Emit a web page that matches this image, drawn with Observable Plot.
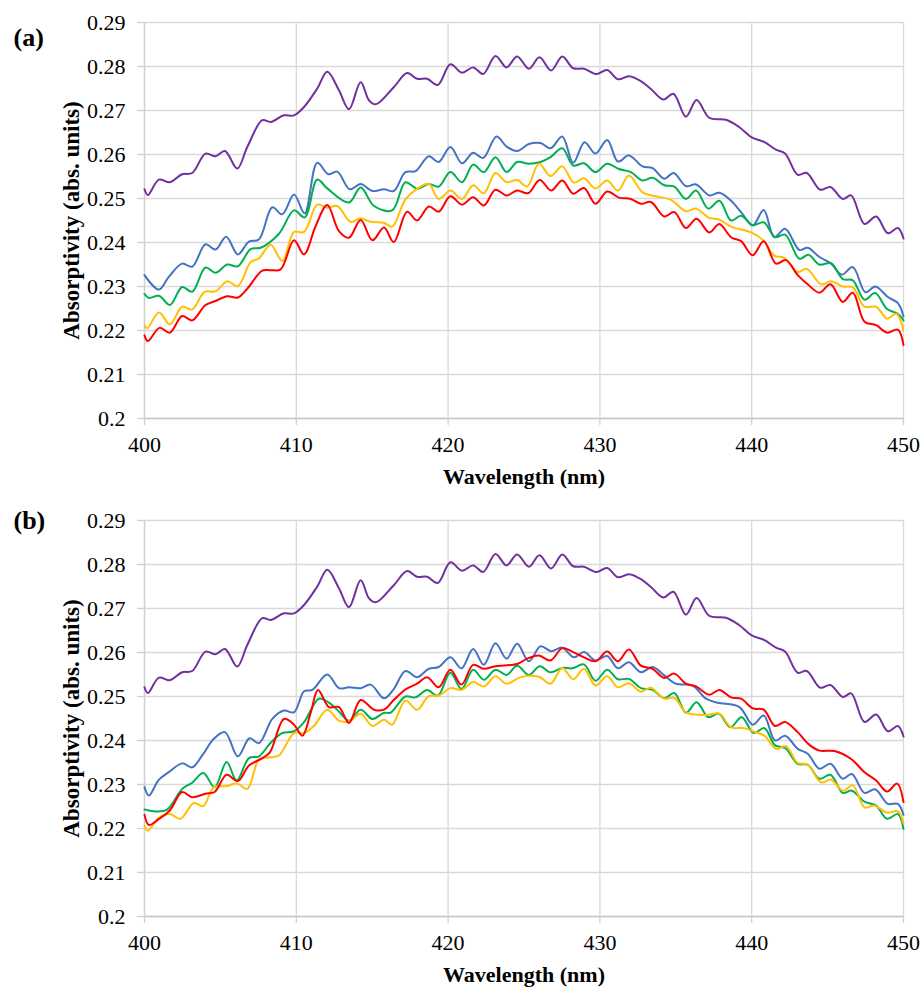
<!DOCTYPE html>
<html><head><meta charset="utf-8">
<script src="https://cdn.jsdelivr.net/npm/d3@7"></script>
<script src="https://cdn.jsdelivr.net/npm/@observablehq/plot@0.6"></script>
<style>
body{margin:0;background:#fff;}
#wrap{width:924px;}
#wrap svg{display:block;}
</style></head><body>
<div id="wrap"></div>
<script>
// [wavelength (nm), absorptivity]
const purple = [[400,0.2521],[400.22,0.2508],[400.95,0.2543],[401.67,0.2537],[402.48,0.2555],[403.14,0.2558],[404.02,0.2602],[404.68,0.2596],[405.3,0.2608],[406.11,0.2568],[406.77,0.2617],[407.76,0.2678],[408.31,0.2674],[409.19,0.2689],[409.85,0.2689],[410.51,0.2708],[411.38,0.2750],[412.04,0.2788],[412.81,0.2746],[413.47,0.2703],[414.24,0.2764],[414.79,0.2723],[415.23,0.2714],[416.42,0.2753],[417.3,0.2785],[417.96,0.2772],[418.62,0.2772],[419.32,0.2758],[420.15,0.2805],[420.92,0.2786],[421.65,0.2798],[422.31,0.2783],[423.12,0.2824],[423.85,0.2798],[424.55,0.2823],[425.32,0.2795],[426.02,0.2821],[426.79,0.2791],[427.52,0.2823],[428.24,0.2796],[428.95,0.2795],[429.78,0.2783],[430.48,0.2792],[431.19,0.2771],[431.91,0.2778],[432.7,0.2767],[433.36,0.2749],[434.18,0.2725],[434.84,0.2738],[435.67,0.2686],[436.37,0.2724],[437.21,0.2683],[438.31,0.2679],[439.19,0.2662],[440.0,0.2639],[440.84,0.2628],[441.6,0.2611],[442.2,0.2602],[443.03,0.2554],[443.63,0.2558],[444.51,0.2520],[445.19,0.2526],[446.0,0.2499],[446.55,0.2507],[447.43,0.2442],[448.2,0.2459],[448.97,0.2421],[449.63,0.2433],[450,0.2409]];

const aBlue = [[400,0.2326],[400.95,0.2293],[401.6,0.2322],[402.48,0.2352],[403.14,0.2345],[404.02,0.2396],[404.68,0.2384],[405.38,0.2413],[406.15,0.2373],[406.88,0.2402],[407.54,0.2407],[408.42,0.2480],[409.08,0.2464],[409.85,0.2509],[410.55,0.2466],[411.38,0.2581],[412.11,0.2555],[412.7,0.2561],[413.52,0.2521],[414.24,0.2533],[415.01,0.2517],[415.78,0.2521],[416.42,0.2517],[417.19,0.2560],[417.85,0.2562],[418.73,0.2596],[419.38,0.2583],[420.15,0.2617],[420.92,0.2580],[421.65,0.2604],[422.31,0.2592],[423.19,0.2641],[423.85,0.2618],[424.55,0.2608],[425.32,0.2624],[426.09,0.2626],[426.75,0.2614],[427.52,0.2641],[428.24,0.2581],[428.99,0.2628],[429.71,0.2602],[430.48,0.2633],[431.19,0.2584],[431.91,0.2598],[432.81,0.2573],[433.47,0.2569],[434.24,0.2545],[434.86,0.2558],[435.67,0.2528],[436.33,0.2532],[437.21,0.2507],[437.87,0.2513],[438.64,0.2495],[439.3,0.2469],[440.07,0.2439],[440.79,0.2474],[441.49,0.2412],[442.2,0.2431],[443.14,0.2383],[443.69,0.2388],[444.46,0.2367],[445.23,0.2352],[445.93,0.2327],[446.66,0.2344],[447.49,0.2287],[448.15,0.2300],[448.97,0.2276],[449.63,0.2262],[450,0.2232]];

const aGreen = [[400,0.2283],[400.29,0.2274],[400.95,0.2279],[401.67,0.2258],[402.48,0.2299],[403.14,0.2288],[404.02,0.2343],[404.68,0.2331],[405.45,0.2350],[406.15,0.2346],[406.99,0.2385],[407.65,0.2388],[408.86,0.2420],[409.85,0.2473],[410.55,0.2457],[411.38,0.2543],[412.04,0.2523],[413.47,0.2491],[414.24,0.2525],[415.12,0.2483],[416.31,0.2473],[417.19,0.2537],[417.96,0.2522],[418.73,0.2533],[419.38,0.2527],[420.15,0.2560],[420.92,0.2537],[421.65,0.2577],[422.35,0.2560],[423.12,0.2594],[423.85,0.2560],[424.55,0.2583],[425.32,0.2579],[426.09,0.2583],[426.75,0.2594],[427.52,0.2614],[428.24,0.2575],[428.95,0.2580],[429.71,0.2560],[430.48,0.2579],[431.25,0.2567],[432.04,0.2560],[432.81,0.2541],[433.47,0.2547],[434.24,0.2530],[434.9,0.2527],[435.67,0.2499],[436.33,0.2518],[437.14,0.2477],[437.87,0.2495],[438.64,0.2450],[439.3,0.2461],[440.07,0.2439],[440.79,0.2446],[441.54,0.2412],[442.2,0.2418],[443.14,0.2363],[443.74,0.2372],[444.46,0.2350],[445.23,0.2353],[446.0,0.2317],[446.66,0.2314],[447.43,0.2270],[448.13,0.2285],[448.92,0.2249],[449.63,0.2238],[450,0.2223]];

const aYellow = [[400,0.2212],[400.18,0.2205],[400.95,0.2241],[401.67,0.2214],[402.48,0.2254],[403.14,0.2248],[403.96,0.2288],[404.68,0.2289],[405.45,0.2312],[406.15,0.2301],[406.99,0.2355],[407.54,0.2364],[408.31,0.2395],[409.08,0.2358],[409.85,0.2424],[410.51,0.2424],[411.38,0.2486],[412.04,0.2479],[412.7,0.2483],[413.58,0.2447],[414.24,0.2455],[414.9,0.2447],[415.78,0.2445],[416.31,0.2436],[417.19,0.2498],[417.96,0.2522],[418.73,0.2533],[419.38,0.2499],[420.15,0.2518],[420.92,0.2499],[421.65,0.2530],[422.35,0.2512],[423.12,0.2558],[423.85,0.2537],[424.55,0.2542],[425.21,0.2527],[425.98,0.2579],[426.75,0.2551],[427.52,0.2573],[428.29,0.2536],[428.95,0.2546],[429.71,0.2523],[430.48,0.2541],[431.19,0.2518],[431.91,0.2552],[432.81,0.2514],[433.69,0.2505],[434.68,0.2497],[435.67,0.2471],[436.33,0.2477],[437.21,0.2456],[437.87,0.2452],[438.64,0.2436],[439.96,0.2423],[440.73,0.2406],[441.49,0.2370],[442.15,0.2365],[443.03,0.2333],[443.63,0.2340],[444.57,0.2305],[445.23,0.2312],[446.0,0.2300],[446.66,0.2298],[447.43,0.2254],[448.2,0.2254],[448.92,0.2227],[449.52,0.2238],[450,0.2200]];

const aRed = [[400,0.2189],[400.22,0.2176],[400.99,0.2206],[401.67,0.2195],[402.48,0.2233],[403.14,0.2223],[404.02,0.2258],[404.68,0.2267],[405.45,0.2278],[406.15,0.2275],[406.77,0.2295],[407.76,0.2336],[408.31,0.2337],[408.97,0.2339],[409.85,0.2405],[410.51,0.2373],[411.27,0.2437],[412.04,0.2485],[412.81,0.2426],[413.47,0.2411],[414.24,0.2451],[415.01,0.2405],[415.78,0.2434],[416.42,0.2401],[417.3,0.2470],[417.96,0.2450],[418.73,0.2482],[419.38,0.2470],[420.15,0.2505],[420.92,0.2486],[421.65,0.2503],[422.35,0.2484],[423.12,0.2520],[423.85,0.2507],[424.55,0.2518],[425.27,0.2512],[426.04,0.2542],[426.79,0.2518],[427.52,0.2541],[428.24,0.2511],[428.95,0.2524],[429.71,0.2488],[430.48,0.2516],[431.25,0.2502],[432.04,0.2499],[432.7,0.2488],[433.36,0.2492],[434.24,0.2459],[434.9,0.2469],[435.67,0.2433],[436.37,0.2454],[437.21,0.2423],[437.87,0.2442],[438.64,0.2412],[439.3,0.2403],[440.07,0.2371],[440.79,0.2403],[441.6,0.2352],[442.26,0.2360],[443.03,0.2326],[443.69,0.2305],[444.46,0.2286],[445.19,0.2305],[446.0,0.2265],[446.66,0.2286],[447.43,0.2220],[448.2,0.2212],[448.92,0.2195],[449.63,0.2202],[450,0.2167]];

const bBlue = [[400,0.2294],[400.29,0.2275],[400.95,0.2311],[401.6,0.2328],[402.48,0.2348],[403.14,0.2339],[403.8,0.2366],[404.57,0.2404],[405.3,0.2419],[406.15,0.2364],[406.92,0.2405],[407.54,0.2394],[408.42,0.2449],[409.19,0.2468],[409.85,0.2464],[410.51,0.2512],[411.05,0.2515],[412.04,0.2550],[412.81,0.2519],[413.47,0.2521],[414.24,0.2519],[414.9,0.2527],[415.78,0.2496],[416.42,0.2517],[417.19,0.2558],[417.96,0.2544],[418.73,0.2563],[419.38,0.2567],[420.15,0.2589],[420.88,0.2564],[421.65,0.2608],[422.35,0.2572],[423.12,0.2621],[423.85,0.2586],[424.55,0.2620],[425.32,0.2580],[426.09,0.2614],[426.79,0.2603],[427.52,0.2611],[428.29,0.2589],[428.95,0.2601],[429.71,0.2582],[430.48,0.2592],[431.19,0.2564],[431.91,0.2578],[432.7,0.2555],[433.47,0.2567],[434.24,0.2548],[435.01,0.2529],[436.11,0.2525],[436.99,0.2495],[437.76,0.2486],[439.19,0.2476],[440.07,0.2436],[440.79,0.2457],[441.54,0.2400],[442.2,0.2411],[443.03,0.2381],[443.69,0.2370],[444.46,0.2336],[445.19,0.2347],[446.0,0.2313],[446.59,0.2324],[447.43,0.2281],[448.13,0.2289],[448.97,0.2256],[449.63,0.2256],[450,0.2231]];

const bGreen = [[400,0.2243],[400.62,0.2239],[401.49,0.2243],[402.48,0.2290],[403.14,0.2304],[403.87,0.2326],[404.62,0.2294],[405.41,0.2351],[406.07,0.2309],[406.88,0.2360],[407.54,0.2364],[408.31,0.2395],[409.08,0.2417],[409.85,0.2421],[410.51,0.2442],[411.49,0.2495],[412.15,0.2486],[412.81,0.2466],[413.47,0.2445],[414.24,0.2470],[415.01,0.2449],[415.78,0.2463],[416.2,0.2463],[417.19,0.2500],[417.85,0.2498],[418.62,0.2515],[419.32,0.2502],[420.15,0.2554],[420.88,0.2517],[421.65,0.2561],[422.35,0.2538],[423.12,0.2561],[423.85,0.2549],[424.55,0.2570],[425.32,0.2549],[426.04,0.2569],[426.75,0.2555],[427.52,0.2565],[428.18,0.2564],[428.95,0.2573],[429.71,0.2536],[430.48,0.2561],[431.19,0.2539],[431.91,0.2540],[432.7,0.2519],[433.47,0.2515],[434.24,0.2496],[434.9,0.2508],[435.67,0.2463],[436.37,0.2487],[437.14,0.2453],[437.82,0.2461],[438.59,0.2430],[439.34,0.2453],[440.13,0.2417],[440.84,0.2428],[441.54,0.2389],[442.2,0.2383],[443.03,0.2347],[443.69,0.2345],[444.46,0.2313],[445.19,0.2322],[446.0,0.2281],[446.59,0.2286],[447.43,0.2261],[448.2,0.2252],[448.92,0.2222],[449.63,0.2233],[450,0.2199]];

const bYellow = [[400,0.2207],[400.22,0.2195],[400.95,0.2224],[401.67,0.2233],[402.37,0.2222],[403.25,0.2258],[403.87,0.2251],[404.57,0.2294],[405.34,0.2296],[406.11,0.2302],[406.77,0.2290],[407.54,0.2356],[408.31,0.2362],[408.86,0.2366],[409.85,0.2417],[410.51,0.2417],[411.16,0.2433],[412.04,0.2470],[412.81,0.2445],[413.47,0.2443],[414.24,0.2461],[415.01,0.2433],[415.78,0.2447],[416.31,0.2436],[417.19,0.2491],[417.96,0.2470],[418.73,0.2501],[419.38,0.2502],[420.15,0.2519],[420.88,0.2515],[421.65,0.2533],[422.35,0.2523],[423.12,0.2546],[423.85,0.2529],[424.77,0.2544],[425.98,0.2545],[426.75,0.2529],[427.52,0.2565],[428.24,0.2539],[428.95,0.2563],[429.71,0.2525],[430.48,0.2546],[431.19,0.2521],[431.91,0.2530],[432.7,0.2511],[433.36,0.2520],[434.24,0.2495],[434.9,0.2497],[435.67,0.2464],[436.99,0.2458],[437.87,0.2461],[438.64,0.2430],[439.52,0.2428],[440.18,0.2420],[440.84,0.2411],[441.6,0.2381],[442.26,0.2387],[443.03,0.2349],[443.69,0.2345],[444.57,0.2305],[445.23,0.2311],[446.0,0.2286],[446.66,0.2298],[447.43,0.2248],[448.09,0.2252],[448.92,0.2236],[449.63,0.2239],[450,0.2211]];

const bRed = [[400,0.2231],[400.29,0.2208],[400.95,0.2222],[401.67,0.2241],[402.48,0.2283],[403.14,0.2271],[404.02,0.2279],[404.62,0.2283],[405.41,0.2322],[406.15,0.2308],[406.88,0.2343],[407.76,0.2360],[408.26,0.2373],[409.19,0.2449],[409.85,0.2436],[410.4,0.2411],[410.95,0.2463],[411.43,0.2515],[412.15,0.2476],[412.81,0.2476],[413.47,0.2440],[414.24,0.2492],[415.12,0.2470],[415.78,0.2470],[416.42,0.2492],[417.19,0.2516],[417.96,0.2529],[418.62,0.2544],[419.38,0.2521],[420.15,0.2561],[420.88,0.2527],[421.65,0.2572],[422.35,0.2563],[423.12,0.2569],[424.55,0.2574],[425.21,0.2586],[425.98,0.2593],[426.75,0.2582],[427.52,0.2610],[428.24,0.2601],[428.95,0.2589],[429.71,0.2580],[430.48,0.2602],[431.19,0.2580],[431.91,0.2607],[432.7,0.2570],[433.47,0.2563],[434.24,0.2542],[434.9,0.2552],[435.67,0.2529],[436.33,0.2523],[437.21,0.2504],[437.87,0.2515],[438.64,0.2498],[439.3,0.2495],[440.07,0.2473],[440.79,0.2470],[441.54,0.2433],[442.2,0.2442],[443.03,0.2419],[443.8,0.2390],[444.46,0.2377],[445.45,0.2376],[446.55,0.2358],[447.43,0.2328],[448.2,0.2309],[448.92,0.2284],[449.58,0.2302],[450,0.2260]];

const xTicks = [400, 410, 420, 430, 440, 450];
const yTicks = [0.2, 0.21, 0.22, 0.23, 0.24, 0.25, 0.26, 0.27, 0.28, 0.29];
const yTickLabels = ["0.2", "0.21", "0.22", "0.23", "0.24", "0.25", "0.26", "0.27", "0.28", "0.29"];
const seriesColors = {purple: "#7030A0", blue: "#4472C4", green: "#00B050", yellow: "#FFC000", red: "#FF0000"};
const xTitle = "Wavelength (nm)";
const yTitle = "Absorptivity (abs. units)";

const FONT = '"Liberation Serif", "Times New Roman", serif';

function panel(lines, label, height, mt, mb, labelDy) {
  const lineMarks = lines.map(([data, color]) =>
    Plot.line(data, {x: d => d[0], y: d => d[1], stroke: seriesColors[color], strokeWidth: 2, curve: "catmull-rom"}));
  return Plot.plot({
    width: 924, height, marginLeft: 144, marginRight: 21, marginTop: mt, marginBottom: mb,
    style: {fontFamily: FONT, fontSize: "22px", color: "#000", background: "#fff", overflow: "visible"},
    x: {domain: [400, 450]},
    y: {domain: [0.2, 0.29]},
    marks: [
      Plot.gridX(xTicks, {stroke: "#d9d9d9", strokeOpacity: 1, strokeWidth: 1.3}),
      Plot.gridY(yTicks, {stroke: "#d9d9d9", strokeOpacity: 1, strokeWidth: 1.3}),
      Plot.ruleY([0.2], {stroke: "#c8c8c8", strokeWidth: 1.3}),
      Plot.ruleX([400], {stroke: "#d0d0d0", strokeWidth: 1.3}),
      Plot.axisX(xTicks, {tickSize: 7, tickPadding: 11, stroke: "#cfcfcf", strokeWidth: 1.3, label: null, fontSize: 22, fill: "#000", fontFamily: FONT}),
      Plot.axisY(yTicks, {tickSize: 7, tickPadding: 12, stroke: "#cfcfcf", strokeWidth: 1.3, label: null, fontSize: 22, fill: "#000", fontFamily: FONT,
        tickFormat: (d, i) => yTickLabels[i]}),
      ...lineMarks,
      Plot.text([xTitle], {text: d => d, frameAnchor: "bottom", textAnchor: "middle", lineAnchor: "middle", dy: 58, fontSize: 22, fontWeight: "bold", fill: "#000", fontFamily: FONT}),
      Plot.text([yTitle], {text: d => d, frameAnchor: "left", textAnchor: "middle", lineAnchor: "middle", dx: -73, rotate: -90, fontSize: 23, fontWeight: "bold", fill: "#000", fontFamily: FONT}),
      Plot.text([label], {text: d => d, frameAnchor: "top-left", textAnchor: "start", lineAnchor: "middle", dx: -131, dy: labelDy, fontSize: 26, fontWeight: "bold", fill: "#000", fontFamily: FONT})
    ]
  });
}

const wrap = document.getElementById("wrap");
wrap.appendChild(panel([[purple, "purple"], [aBlue, "blue"], [aGreen, "green"], [aYellow, "yellow"], [aRed, "red"]], "(a)", 494, 22, 76, 15));
wrap.appendChild(panel([[purple, "purple"], [bBlue, "blue"], [bGreen, "green"], [bYellow, "yellow"], [bRed, "red"]], "(b)", 493, 26, 71, 0));
</script>
</body></html>
